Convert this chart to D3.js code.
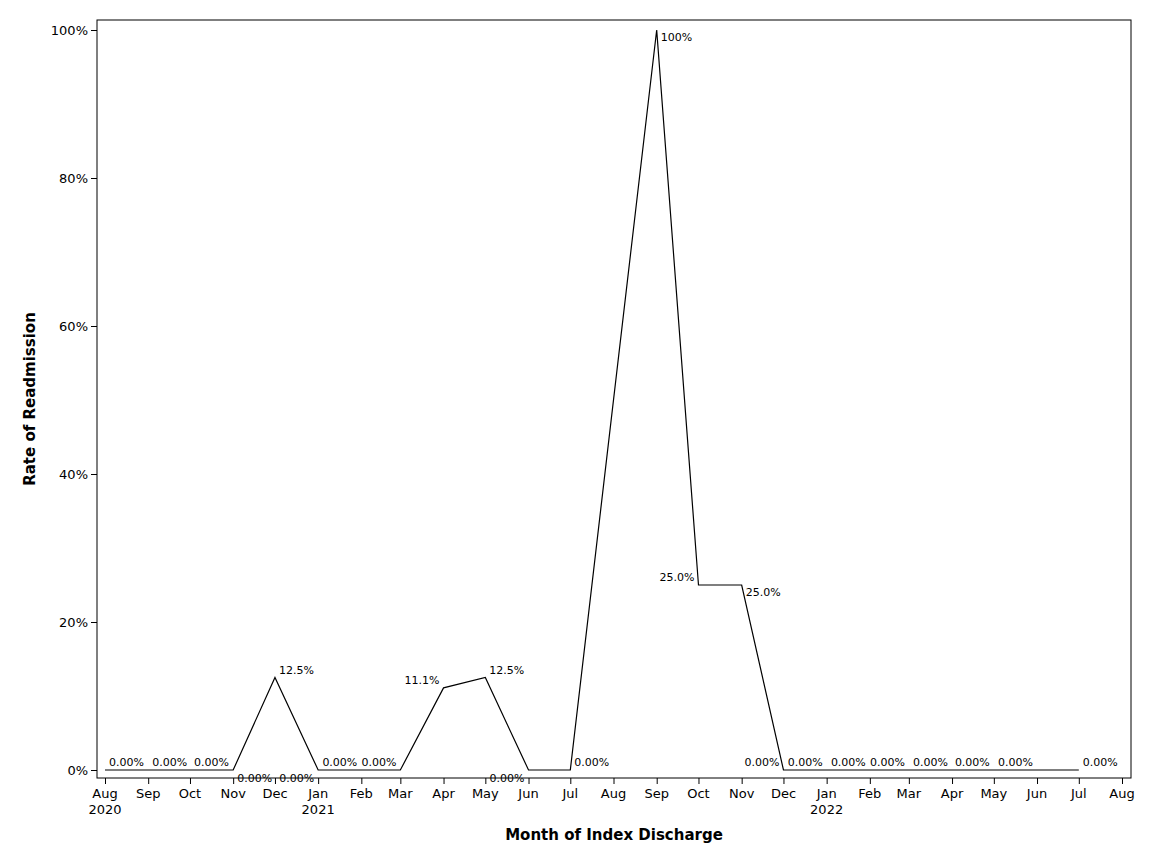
<!DOCTYPE html>
<html><head><meta charset="utf-8">
<script src="https://cdn.jsdelivr.net/npm/d3@7"></script>
<style>body{margin:0;background:#fff;font-family:"DejaVu Sans",Arial,sans-serif}</style>
</head><body><svg id="c" width="1152" height="864"></svg>
<script>
const months = ["2020-08","2020-09","2020-10","2020-11","2020-12","2021-01","2021-02","2021-03","2021-04","2021-05","2021-06","2021-07","2021-09","2021-10","2021-11","2021-12","2022-01","2022-02","2022-03","2022-04","2022-05","2022-06","2022-07"];
const rates = [0,0,0,0,12.5,0,0,0,11.1,12.5,0,0,100,25,25,0,0,0,0,0,0,0,0];
const labels = ["0.00%","0.00%","0.00%","0.00%","12.5%","0.00%","0.00%","0.00%","11.1%","12.5%","0.00%","0.00%","100%","25.0%","25.0%","0.00%","0.00%","0.00%","0.00%","0.00%","0.00%","0.00%","0.00%"];
const labelPos = ["NE","NE","NE","SE","NE","SW","NW","NW","NW","NE","SW","NE","E","W","E","NW","NW","NW","NW","NW","NW","NW","NE"];
const yTicks = [0,20,40,60,80,100];

const svg = d3.select("#c");
const L=97,R=1131,T=20,B=778;
const parse=d3.timeParse("%Y-%m");
const x=d3.scaleTime().domain([new Date(2020,6,20),new Date(2022,7,10)]).range([L,R]);
// calibrate: Aug 2020 at 105, Aug 2022 at 1122
x.domain([new Date(2020,7,1),new Date(2022,7,1)]).range([105,1122]);
const y=d3.scaleLinear().domain([0,100]).range([770,30]);
svg.append("rect").attr("x",L).attr("y",T).attr("width",R-L).attr("height",B-T).attr("fill","none").attr("stroke","#000");
const ticks=d3.timeMonth.range(new Date(2020,7,1),new Date(2022,7,2));
const xa=svg.append("g").attr("transform",`translate(0,${B})`).call(d3.axisBottom(x).tickValues(ticks).tickSize(6).tickFormat(""));
xa.select(".domain").remove();
ticks.forEach(d=>{
  const t=svg.append("text").attr("x",x(d)).attr("y",B+20).attr("text-anchor","middle").attr("font-size",13).text(d3.timeFormat("%b")(d));
  if(d.getMonth()===0||+d===+new Date(2020,7,1)) svg.append("text").attr("x",x(d)).attr("y",B+36).attr("text-anchor","middle").attr("font-size",13).text(d.getFullYear());
});
const ya=svg.append("g").attr("transform",`translate(${L},0)`).call(d3.axisLeft(y).tickValues(yTicks).tickSize(6).tickFormat(d=>d+"%"));
ya.select(".domain").remove();
ya.selectAll("text").attr("font-size",13).attr("font-family","DejaVu Sans");
svg.append("text").attr("x",614).attr("y",840).attr("text-anchor","middle").attr("font-size",15).attr("font-weight","bold").text("Month of Index Discharge");
svg.append("text").attr("transform","translate(35,399) rotate(-90)").attr("text-anchor","middle").attr("font-size",15).attr("font-weight","bold").text("Rate of Readmission");
const data=months.map((m,i)=>({d:parse(m),v:rates[i],l:labels[i],p:labelPos[i]}));
svg.append("path").datum(data).attr("fill","none").attr("stroke","#000").attr("stroke-width",1.2)
  .attr("d",d3.line().x(d=>x(d.d)).y(d=>y(d.v)));
data.forEach(d=>{
  const px=x(d.d),py=y(d.v);
  let dx=4,dy=-4,a="start";
  if(d.p==="NW"){dx=-4;a="end";}
  if(d.p==="SE"){dy=4+8;}
  if(d.p==="SW"){dx=-4;a="end";dy=12;}
  if(d.p==="E"){dy=11;}
  if(d.p==="W"){dx=-4;a="end";dy=-4;}
  svg.append("text").attr("x",px+dx).attr("y",py+dy).attr("text-anchor",a).attr("font-size",11).text(d.l);
});
</script></body></html>
